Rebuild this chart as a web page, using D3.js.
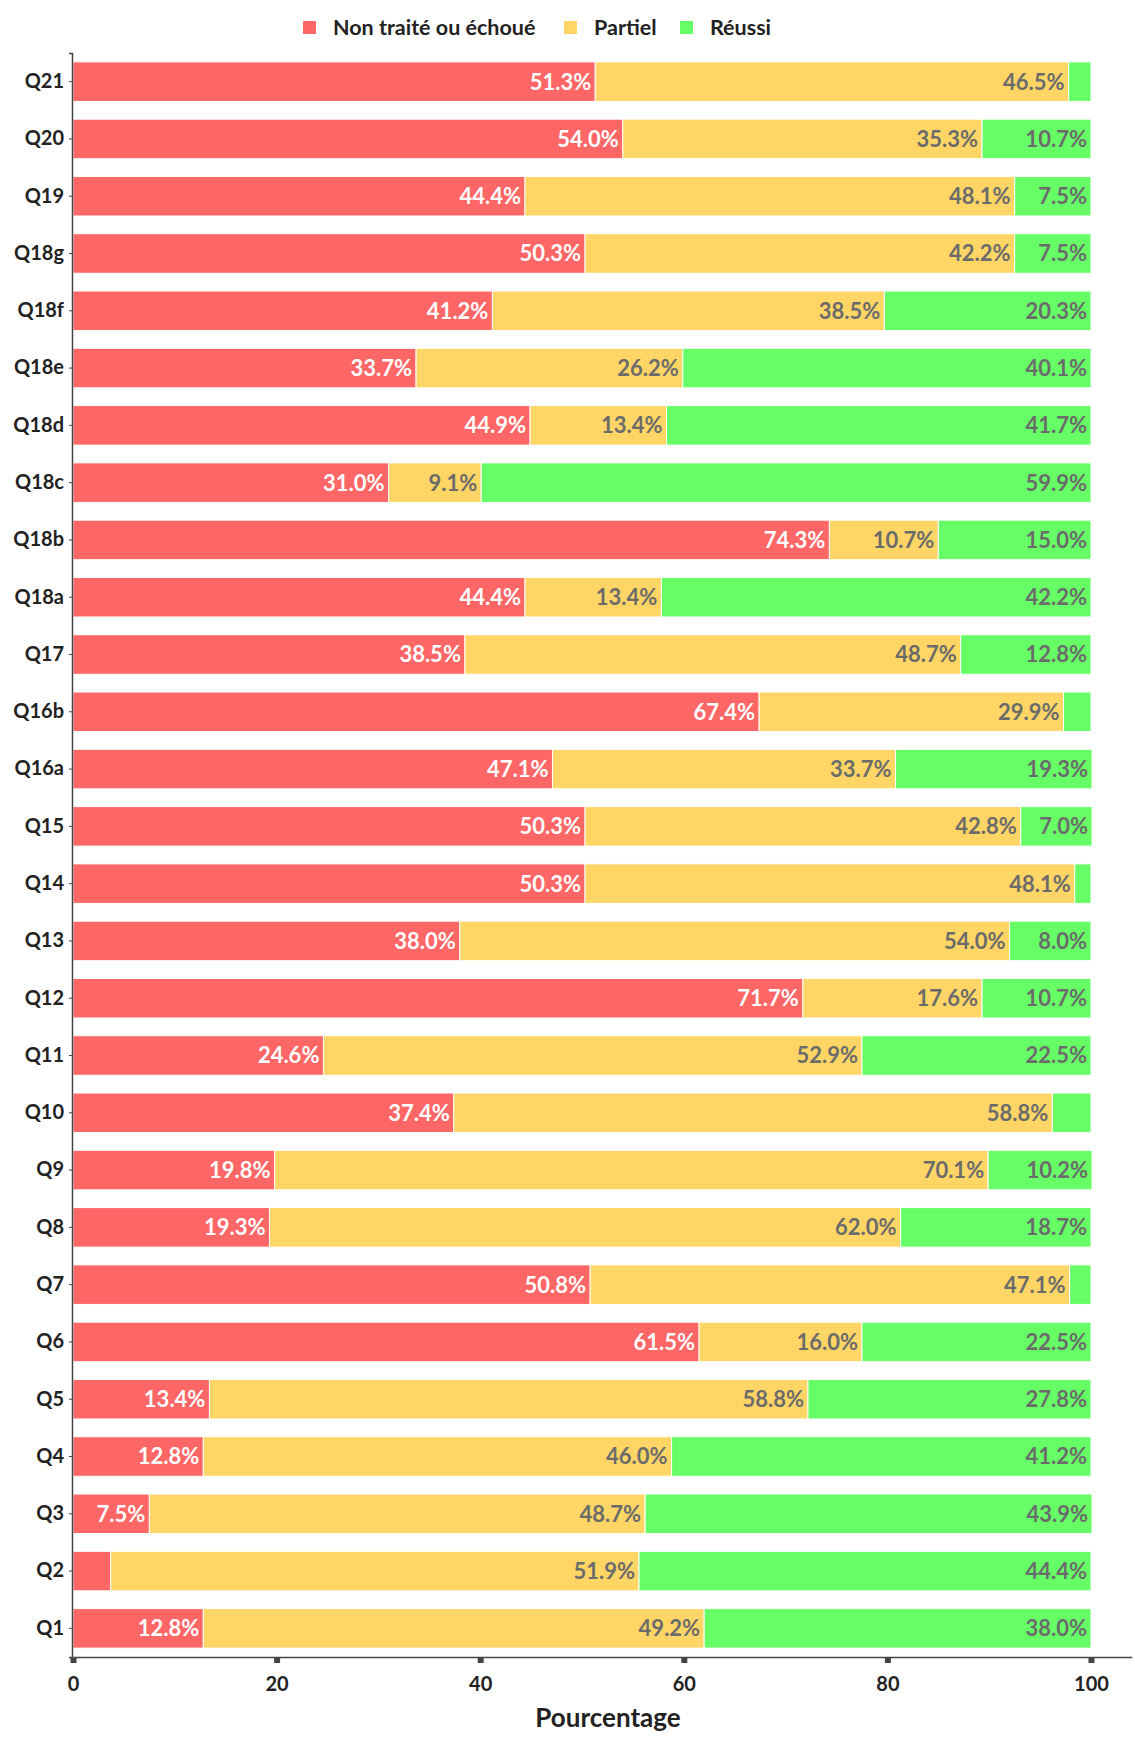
<!DOCTYPE html>
<html>
<head>
<meta charset="utf-8">
<title>Stacked bars</title>
<style>
  body { margin: 0; background: #fff; }
  text { font-family: Lato, "Open Sans", sans-serif; }
</style>
</head>
<body>
<script src="https://d3js.org/d3.v7.min.js"></script>
<script>
// questions, top to bottom
var questions = ["Q21","Q20","Q19","Q18g","Q18f","Q18e","Q18d","Q18c","Q18b","Q18a","Q17","Q16b","Q16a",
                 "Q15","Q14","Q13","Q12","Q11","Q10","Q9","Q8","Q7","Q6","Q5","Q4","Q3","Q2","Q1"];
var seriesNames = ["Non traité ou échoué", "Partiel", "Réussi"];
var failed  = [51.3,54.0,44.4,50.3,41.2,33.7,44.9,31.0,74.3,44.4,38.5,67.4,47.1,50.3,50.3,38.0,71.7,24.6,37.4,19.8,19.3,50.8,61.5,13.4,12.8,7.5,3.7,12.8];
var partial = [46.5,35.3,48.1,42.2,38.5,26.2,13.4,9.1,10.7,13.4,48.7,29.9,33.7,42.8,48.1,54.0,17.6,52.9,58.8,70.1,62.0,47.1,16.0,58.8,46.0,48.7,51.9,49.2];
var success = [2.2,10.7,7.5,7.5,20.3,40.1,41.7,59.9,15.0,42.2,12.8,2.7,19.3,7.0,1.6,8.0,10.7,22.5,3.8,10.2,18.7,2.1,22.5,27.8,41.2,43.9,44.4,38.0];
var xTicks = [0, 20, 40, 60, 80, 100];

var colors = ["#ff6666", "#ffd666", "#66ff66"];
var labelColors = ["#ffffff", "#6b6b6b", "#6b6b6b"];

var W = 1135, H = 1738;
var svg = d3.select("body").append("svg").attr("width", W).attr("height", H);

var x = d3.scaleLinear().domain([0, 104]).range([73, 73 + 1018 * 1.04]);
var y = d3.scaleBand().domain(questions).range([53, 1657]).paddingInner(0.31).paddingOuter(0.155);

var rows = questions.map(function(q, i){
  return {q: q, vals: [failed[i], partial[i], success[i]]};
});

var g = svg.append("g");
rows.forEach(function(r){
  var acc = 0;
  r.vals.forEach(function(v, k){
    var x0 = acc, x1 = acc + v;
    acc = x1;
    g.append("rect")
      .attr("x", x(x0))
      .attr("y", y(r.q))
      .attr("width", x(x1) - x(x0))
      .attr("height", y.bandwidth())
      .attr("fill", colors[k])
      .attr("stroke", "#fff")
      .attr("stroke-width", 1);
    // small segments get no label
    if (v >= 5) {
      g.append("text")
        .attr("x", x(x1) - 4)
        .attr("y", y(r.q) + y.bandwidth() / 2)
        .attr("dy", "0.36em")
        .attr("text-anchor", "end")
        .attr("font-size", "22px")
        .attr("font-weight", "bold")
        .attr("fill", labelColors[k])
        .text(v.toFixed(1) + "%");
    }
  });
});

// y axis
var yAxis = svg.append("g")
  .attr("transform", "translate(72,0)")
  .call(d3.axisLeft(y).tickSize(3).tickPadding(5));
yAxis.select(".domain").attr("stroke", "#444").attr("stroke-width", 1.5);
yAxis.selectAll(".tick line").attr("stroke", "#444");
yAxis.selectAll(".tick text").attr("font-size", "20px").attr("font-weight", "bold").attr("fill", "#222");

// x axis
var xAxis = svg.append("g")
  .attr("transform", "translate(0,1657)")
  .call(d3.axisBottom(x).tickValues(xTicks).tickSize(0).tickPadding(20).tickSizeOuter(0));
xAxis.select(".domain").attr("stroke", "#444").attr("stroke-width", 1.5);
xAxis.selectAll(".tick").append("rect")
  .attr("x", -3).attr("y", 1).attr("width", 6).attr("height", 5).attr("fill", "#444");
xAxis.selectAll(".tick text").attr("font-size", "20px").attr("font-weight", "bold").attr("fill", "#222");

svg.append("text")
  .attr("x", 608).attr("y", 1727)
  .attr("text-anchor", "middle")
  .attr("font-size", "26px")
  .attr("font-weight", "bold")
  .attr("fill", "#222")
  .text("Pourcentage");

// legend
var legendX = [303, 564, 680];
var legend = svg.append("g");
seriesNames.forEach(function(s, i){
  legend.append("rect")
    .attr("x", legendX[i]).attr("y", 21).attr("width", 13).attr("height", 13)
    .attr("fill", colors[i]);
  legend.append("text")
    .attr("x", legendX[i] + 30).attr("y", 27.5)
    .attr("dy", "0.36em")
    .attr("font-size", "21.5px")
    .attr("font-weight", "bold")
    .attr("fill", "#222")
    .text(s);
});
</script>
</body>
</html>
